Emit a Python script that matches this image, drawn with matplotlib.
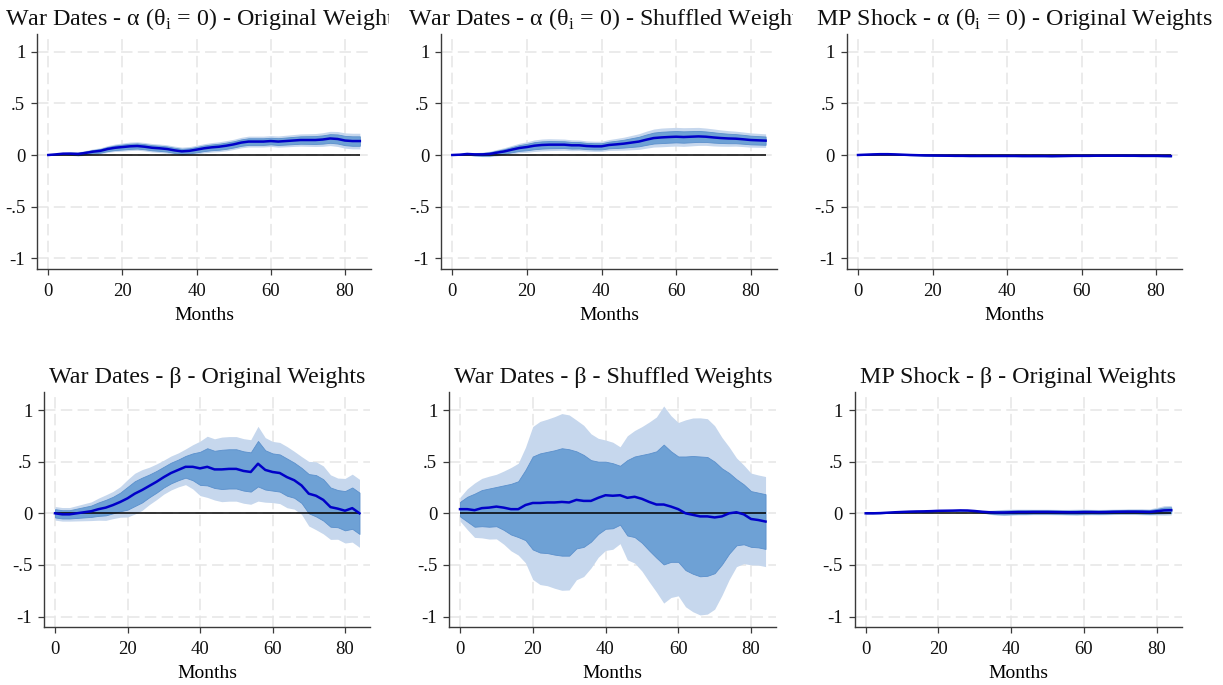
import numpy as np
import matplotlib
matplotlib.use("Agg")
import matplotlib.pyplot as plt
from matplotlib.transforms import Bbox, TransformedBbox

plt.rcParams['font.family'] = ['Liberation Serif', 'DejaVu Serif']
plt.rcParams['mathtext.fontset'] = 'custom'
plt.rcParams['mathtext.rm'] = 'Liberation Serif'

W, H = 1223, 685

# horizon in months (every second month)
months = np.arange(0, 86, 2)

# point estimates and standard errors of the impulse responses
war_alpha_orig = [0.0, 0.006, 0.013, 0.013, 0.01, 0.02, 0.032, 0.04, 0.058, 0.07, 0.077,
                  0.084, 0.087, 0.08, 0.07, 0.065, 0.058, 0.045, 0.035, 0.04, 0.052, 0.065,
                  0.074, 0.08, 0.09, 0.103, 0.12, 0.13, 0.13, 0.13, 0.135, 0.13, 0.135, 0.14,
                  0.145, 0.145, 0.145, 0.15, 0.16, 0.155, 0.14, 0.135, 0.135]
war_alpha_orig_se = [0.0, 0.004, 0.007, 0.01, 0.012, 0.014, 0.016, 0.018, 0.02, 0.022, 0.024,
                     0.025, 0.025, 0.025, 0.025, 0.025, 0.025, 0.025, 0.025, 0.025, 0.026, 0.027,
                     0.028, 0.029, 0.03, 0.03, 0.031, 0.032, 0.032, 0.032, 0.032, 0.033, 0.034,
                     0.035, 0.036, 0.037, 0.038, 0.04, 0.042, 0.044, 0.045, 0.046, 0.046]

war_alpha_shuf = [0.0, 0.003, 0.01, 0.006, 0.006, 0.01, 0.023, 0.035, 0.052, 0.068, 0.077,
                  0.09, 0.097, 0.1, 0.1, 0.1, 0.094, 0.094, 0.087, 0.084, 0.084, 0.097, 0.103,
                  0.11, 0.12, 0.13, 0.148, 0.164, 0.17, 0.174, 0.177, 0.174, 0.177, 0.18, 0.177,
                  0.17, 0.164, 0.16, 0.158, 0.152, 0.145, 0.142, 0.139]
war_alpha_shuf_se = [0.0, 0.004, 0.007, 0.01, 0.013, 0.016, 0.019, 0.022, 0.025, 0.028, 0.031,
                     0.034, 0.035, 0.035, 0.034, 0.033, 0.032, 0.031, 0.03, 0.03, 0.03, 0.032,
                     0.035, 0.038, 0.042, 0.046, 0.05, 0.053, 0.055, 0.055, 0.055, 0.055, 0.054,
                     0.053, 0.051, 0.05, 0.048, 0.046, 0.044, 0.043, 0.042, 0.041, 0.04]

mp_alpha_orig = [0.0, 0.003, 0.006, 0.008, 0.008, 0.006, 0.003, 0.0, -0.002, -0.004, -0.005,
                 -0.006, -0.007, -0.008, -0.008, -0.009, -0.009, -0.009, -0.009, -0.009, -0.009,
                 -0.009, -0.01, -0.01, -0.01, -0.01, -0.011, -0.01, -0.009, -0.008, -0.008,
                 -0.008, -0.007, -0.007, -0.007, -0.007, -0.007, -0.007, -0.008, -0.008, -0.008,
                 -0.009, -0.01]
mp_alpha_orig_se = [0.0, 0.001, 0.002, 0.002, 0.002, 0.002, 0.002, 0.002, 0.002, 0.003, 0.003,
                    0.003, 0.003, 0.003, 0.003, 0.003, 0.003, 0.003, 0.003, 0.003, 0.003, 0.003,
                    0.003, 0.003, 0.003, 0.003, 0.003, 0.003, 0.003, 0.003, 0.003, 0.003, 0.003,
                    0.003, 0.003, 0.003, 0.004, 0.004, 0.004, 0.004, 0.004, 0.005, 0.005]

war_beta_orig = [0.0, -0.01, -0.01, 0.0, 0.01, 0.02, 0.04, 0.055, 0.08, 0.11, 0.145, 0.19,
                 0.225, 0.265, 0.305, 0.35, 0.39, 0.42, 0.45, 0.45, 0.435, 0.45, 0.425, 0.425,
                 0.43, 0.43, 0.41, 0.40, 0.48, 0.42, 0.40, 0.39, 0.35, 0.32, 0.27, 0.19, 0.17,
                 0.13, 0.06, 0.045, 0.025, 0.05, 0.0]
war_beta_orig_se = [0.04, 0.04, 0.04, 0.045, 0.05, 0.055, 0.065, 0.075, 0.08, 0.09, 0.11, 0.12,
                    0.12, 0.11, 0.105, 0.1, 0.1, 0.1, 0.105, 0.13, 0.16, 0.18, 0.18, 0.19, 0.19,
                    0.19, 0.19, 0.19, 0.22, 0.19, 0.18, 0.18, 0.18, 0.17, 0.17, 0.19, 0.2, 0.2,
                    0.19, 0.18, 0.19, 0.2, 0.2]

war_beta_shuf = [0.04, 0.04, 0.03, 0.05, 0.055, 0.065, 0.055, 0.04, 0.04, 0.08, 0.1, 0.1,
                 0.105, 0.105, 0.11, 0.105, 0.13, 0.12, 0.12, 0.15, 0.175, 0.17, 0.175, 0.15,
                 0.16, 0.14, 0.11, 0.085, 0.085, 0.065, 0.04, 0.0, -0.015, -0.03, -0.03, -0.04,
                 -0.03, 0.0, 0.01, -0.01, -0.055, -0.065, -0.08]
war_beta_shuf_se = [0.07, 0.12, 0.16, 0.175, 0.185, 0.19, 0.215, 0.245, 0.27, 0.34, 0.45, 0.48,
                    0.49, 0.505, 0.52, 0.515, 0.47, 0.445, 0.395, 0.35, 0.325, 0.315, 0.285,
                    0.365, 0.39, 0.425, 0.47, 0.515, 0.58, 0.535, 0.51, 0.55, 0.57, 0.58, 0.575,
                    0.54, 0.465, 0.39, 0.32, 0.29, 0.27, 0.265, 0.265]

mp_beta_orig = [0.0, 0.0, 0.002, 0.006, 0.01, 0.013, 0.016, 0.018, 0.019, 0.021, 0.024, 0.025,
                0.026, 0.028, 0.027, 0.022, 0.015, 0.01, 0.008, 0.008, 0.01, 0.012, 0.012, 0.013,
                0.013, 0.013, 0.012, 0.011, 0.01, 0.01, 0.012, 0.012, 0.011, 0.012, 0.014, 0.015,
                0.016, 0.016, 0.015, 0.013, 0.02, 0.028, 0.03]
mp_beta_orig_se = [0.0, 0.002, 0.003, 0.003, 0.003, 0.004, 0.004, 0.004, 0.004, 0.004, 0.004,
                   0.004, 0.004, 0.004, 0.005, 0.005, 0.008, 0.012, 0.016, 0.018, 0.018, 0.017,
                   0.017, 0.016, 0.016, 0.016, 0.016, 0.016, 0.017, 0.018, 0.017, 0.016, 0.016,
                   0.016, 0.016, 0.016, 0.017, 0.017, 0.018, 0.018, 0.022, 0.028, 0.028]

titles = [
    'War Dates - α (θ$_\\mathregular{i}$ = 0) - Original Weights',
    'War Dates - α (θ$_\\mathregular{i}$ = 0) - Shuffled Weights',
    'MP Shock - α (θ$_\\mathregular{i}$ = 0) - Original Weights',
    'War Dates - β - Original Weights',
    'War Dates - β - Shuffled Weights',
    'MP Shock - β - Original Weights',
]
series = [
    (war_alpha_orig, war_alpha_orig_se),
    (war_alpha_shuf, war_alpha_shuf_se),
    (mp_alpha_orig, mp_alpha_orig_se),
    (war_beta_orig, war_beta_orig_se),
    (war_beta_shuf, war_beta_shuf_se),
    (mp_beta_orig, mp_beta_orig_se),
]

yticks = [1, 0.5, 0, -0.5, -1]
ytick_labels = ['1', '.5', '0', '-.5', '-1']
xticks = [0, 20, 40, 60, 80]

# pixel anchors: x of month 0, x of month 80, y of value 0, title y, clip edge
layout = [
    (48.3, 345.0, 155.0, 19, 389),
    (452.3, 750.7, 155.0, 19, 793),
    (858.0, 1156.0, 155.0, 19, None),
    (55.0, 345.0, 513.3, 378, None),
    (460.0, 751.0, 513.3, 378, None),
    (865.7, 1156.7, 513.3, 378, None),
]
PX_PER_UNIT = 103.3
XLIM = (-3.0, 87.0)
YLIM = (-1.105, 1.17)

light = '#c6d7ed'
dark = '#6ea1d5'
dark_edge = '#5b90cc'
line_col = '#0000c8'
axis_col = '#3a3a3a'
grid_col = '#e6e6e6'

fig = plt.figure(figsize=(W / 100, H / 100), dpi=100)

for (est, se), title, (x0, x80, yz, ty, clip) in zip(series, titles, layout):
    est = np.asarray(est)
    se = np.asarray(se)
    assert len(est) == len(months) and len(se) == len(months)

    ppm = (x80 - x0) / 80
    left = x0 + XLIM[0] * ppm
    width = (XLIM[1] - XLIM[0]) * ppm
    top = yz - YLIM[1] * PX_PER_UNIT
    height = (YLIM[1] - YLIM[0]) * PX_PER_UNIT
    ax = fig.add_axes([left / W, 1 - (top + height) / H, width / W, height / H])

    ax.fill_between(months, est - 1.645 * se, est + 1.645 * se, color=light, lw=0)
    ax.fill_between(months, est - se, est + se, facecolor=dark, edgecolor=dark_edge, lw=0.6)
    ax.hlines(0, months[0], months[-1], color='black', lw=1.1)
    ax.plot(months, est, color=line_col, lw=1.8)

    ax.set_xlim(*XLIM)
    ax.set_ylim(*YLIM)
    ax.set_xticks(xticks)
    ax.set_yticks(yticks)
    ax.set_yticklabels(ytick_labels)
    ax.grid(True, color=grid_col, lw=1.1, linestyle=(0, (7.5, 3.5)))
    ax.set_axisbelow(True)
    for side in ('top', 'right'):
        ax.spines[side].set_visible(False)
    for side in ('left', 'bottom'):
        ax.spines[side].set_color(axis_col)
        ax.spines[side].set_linewidth(1.0)
    ax.tick_params(axis='both', direction='out', length=4.5, width=0.9, color=axis_col,
                   labelsize=13.5, labelcolor='#111111')
    ax.tick_params(axis='x', pad=5.5)
    ax.tick_params(axis='y', pad=4)
    ax.set_xlabel('Months', fontsize=14, labelpad=5)

    cx = left + width / 2
    t = fig.text(cx / W, 1 - ty / H, title, ha='center', va='center', fontsize=17.3,
                 color='#111111')
    if clip is not None:
        t.set_clip_box(TransformedBbox(Bbox([[0, 0], [clip / W, 1]]), fig.transFigure))
        t.set_clip_on(True)

fig.savefig('out.png', dpi=100)
